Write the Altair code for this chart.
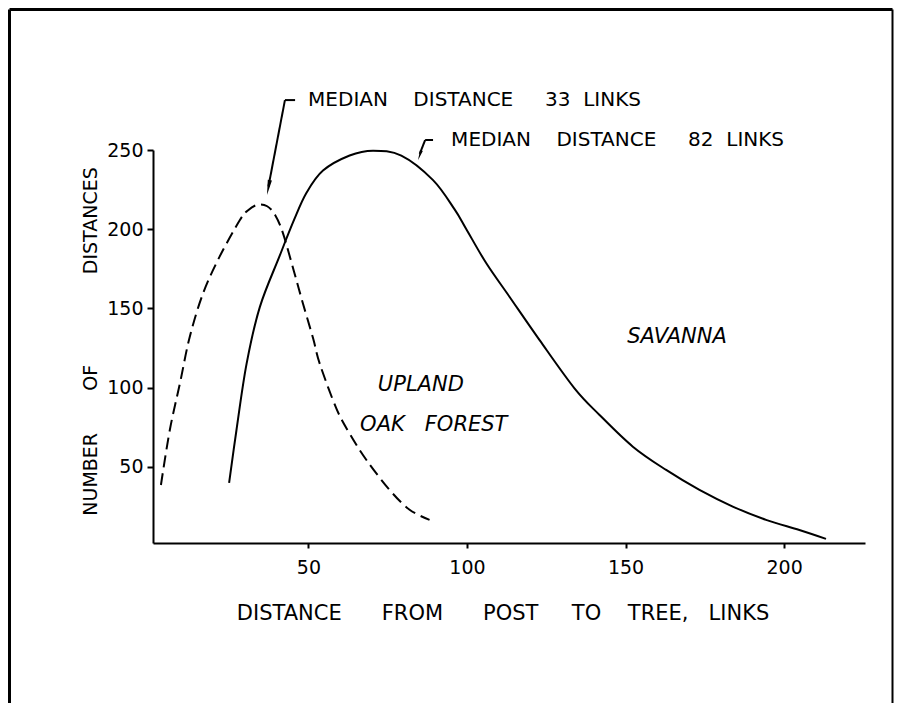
import altair as alt
import pandas as pd

FONT = "DejaVu Sans"
NB = "\u00a0"

# ---- data ----
savanna_x = [25.0, 27.3, 30.5, 34.7, 40.9, 45.5, 49.4, 54.6, 63.0, 70.4, 79.3, 89.3, 96.1, 99.8,
             106.1, 113.4, 122.9, 133.9, 141.8, 152.3, 162.8, 173.3, 183.8, 194.3, 204.8, 213.2]
savanna_y = [40, 73, 115, 151, 183, 206, 223, 237, 246.5, 249.6, 246.5, 231, 212.5, 200,
             178.5, 157.4, 130, 99.6, 82.8, 62.8, 48.1, 35.5, 25, 16.6, 10.2, 4.6]

oak_x = [3.5, 6.3, 9.5, 12.6, 16.8, 22.0, 28.4, 31.0, 34.0, 37.0, 39.5, 42.0, 45.5, 48.3,
         51.5, 53.6, 58.8, 63.0, 68.3, 75.6, 81.9, 88.2]
oak_y = [38.6, 73.3, 102.8, 132.2, 159.6, 182.7, 205.8, 212, 215.5, 214.5, 209, 197.4, 173, 153,
         131, 115, 87, 71, 54.4, 35.5, 23, 16.6]

x_ticks = [50, 100, 150, 200]
y_ticks = [50, 100, 150, 200, 250]
x_domain = [1, 225.5]
y_domain = [2, 250]

x_title = "DISTANCE" + NB * 6 + "FROM" + NB * 6 + "POST" + NB * 5 + "TO" + NB * 4 + "TREE," + NB * 3 + "LINKS"
y_title = "NUMBER" + NB * 7 + "OF" + NB * 15 + "DISTANCES"

note_text = ["MEDIAN" + NB * 4 + "DISTANCE" + NB * 5 + "33" + NB * 2 + "LINKS",
             "MEDIAN" + NB * 4 + "DISTANCE" + NB * 5 + "82" + NB * 2 + "LINKS"]
note_x = [49.9, 95.0]
note_y = [281.5, 256.0]

label_text = ["UPLAND", "OAK" + NB * 3 + "FOREST", "SAVANNA"]
label_x = [71.9, 66.3, 150.5]
label_y = [101.4, 76.5, 132.0]

seg_x1 = [42.6, 42.6, 86.8, 86.8]
seg_y1 = [281.5, 281.5, 256.3, 256.3]
seg_x2 = [45.8, 37.4, 89.3, 85.1]
seg_y2 = [281.5, 227.0, 256.3, 247.5]
head_x = [37.4, 85.1]
head_y = [226.3, 246.6]
head_angle = [11, 19]
head_size = [225, 110]

# ---- encodings ----
x_axis = alt.Axis(values=x_ticks, title=x_title, grid=False, domainColor="black", domainWidth=2,
                  tickColor="black", tickWidth=2, tickSize=5, labelPadding=10, labelFont=FONT,
                  labelFontSize=19, labelColor="black", labelFlush=False, titleFont=FONT,
                  titleFontSize=21, titleFontWeight="normal", titleColor="black",
                  titleX=349.5, titleY=70, titleBaseline="middle", titleAlign="center")
y_axis = alt.Axis(values=y_ticks, title=y_title, grid=False, domainColor="black", domainWidth=2,
                  tickColor="black", tickWidth=2, tickSize=6, labelPadding=4, labelFont=FONT,
                  labelFontSize=19, labelColor="black", titleFont=FONT, titleFontSize=19,
                  titleFontWeight="normal", titleColor="black", titleX=-63, titleY=191,
                  titleAngle=270, titleBaseline="middle", titleAlign="center")
xs = alt.Scale(domain=x_domain, nice=False, zero=False)
ys = alt.Scale(domain=y_domain, nice=False, zero=False)

def X(f="x"):
    return alt.X(f"{f}:Q", scale=xs, axis=x_axis)

def Y(f="y"):
    return alt.Y(f"{f}:Q", scale=ys, axis=y_axis)

sav_df = pd.DataFrame({"x": savanna_x, "y": savanna_y})
oak_df = pd.DataFrame({"x": oak_x, "y": oak_y})
note_df = pd.DataFrame({"x": note_x, "y": note_y, "t": note_text})
label_df = pd.DataFrame({"x": label_x, "y": label_y, "t": label_text})
seg_df = pd.DataFrame({"x": seg_x1, "y": seg_y1, "x2": seg_x2, "y2": seg_y2})
head_df = pd.DataFrame({"x": head_x, "y": head_y, "a": head_angle, "s": head_size})
one = pd.DataFrame({"k": [0]})

# frame (decorative border of the figure)
frame_left = alt.Chart(one).mark_rule(color="black", strokeWidth=3).encode(
    x=alt.value(-143.5), y=alt.value(-140.5), y2=alt.value(553))
frame_top = alt.Chart(one).mark_rule(color="black", strokeWidth=3).encode(
    x=alt.value(-143.5), x2=alt.value(739.5), y=alt.value(-140.5))
frame_right = alt.Chart(one).mark_rule(color="black", strokeWidth=2).encode(
    x=alt.value(739.5), y=alt.value(-140.5), y2=alt.value(553))

sav = alt.Chart(sav_df).mark_line(color="black", strokeWidth=2, interpolate="cardinal").encode(
    x=X(), y=Y())
oak = alt.Chart(oak_df).mark_line(color="black", strokeWidth=2, interpolate="cardinal",
                                  strokeDash=[12, 6]).encode(x=X(), y=Y())

segs = alt.Chart(seg_df).mark_rule(color="black", strokeWidth=2).encode(
    x=X(), y=Y(), x2="x2:Q", y2="y2:Q")
heads = alt.Chart(head_df).mark_point(
    shape="M-0.28,-1L0.28,-1L0,1Z", filled=True, color="black", opacity=1
).encode(x=X(), y=Y(), angle=alt.Angle("a:Q", scale=None), size=alt.Size("s:Q", scale=None))

notes = alt.Chart(note_df).mark_text(font=FONT, fontSize=20, align="left", baseline="middle",
                                     color="black").encode(x=X(), y=Y(), text="t:N")
labels = alt.Chart(label_df).mark_text(font=FONT, fontSize=21, fontStyle="italic", align="left",
                                       baseline="middle", color="black").encode(
    x=X(), y=Y(), text="t:N")

chart = alt.layer(frame_left, frame_top, frame_right, sav, oak, segs, heads, notes, labels).properties(
    width=712, height=393,
    padding={"left": 145, "top": 142, "right": 29, "bottom": 160},
    autosize=alt.AutoSizeParams(type="none"),
    background="white",
).configure_view(stroke="transparent")

chart.save("out.html", embed_options={"renderer": "svg", "actions": False})
